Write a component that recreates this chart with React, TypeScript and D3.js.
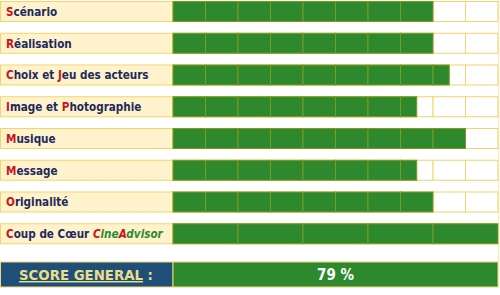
import React from "react";
import * as d3 from "d3";

// critères notés sur 10
const criteres = [
  "Scénario",
  "Réalisation",
  "Choix et Jeu des acteurs",
  "Image et Photographie",
  "Musique",
  "Message",
  "Originalité",
  "Coup de Cœur",
];
const notes = [8, 8, 8.5, 7.5, 9, 7.5, 8, 10];
const pas = [1, 1, 1, 1, 1, 1, 1, 2]; // largeur des cases
const lettresRouges = [[0], [0], [0, 9], [0, 9], [0], [0], [0], [0]];
const signature = "CineAdvisor";
const signatureRouges = [0, 4];
const scoreGeneral = 79;
const noteMax = 10;

const W = 500;
const H = 295;
const labelW = 173;
const rowH = 20;
const pitch = 31.75;
const top = 1.5;

const GREEN = "#2e892e";
const OLIVE = "#7f9a1c";
const GOLD = "#f1d56e";
const CREAM = "#fff2cc";
const NAVY = "#1c2a5c";
const RED = "#c4161c";
const BLUE = "#1f4e79";

const Label = ({ text, reds }: { text: string; reds: number[] }) => (
  <>
    {text.split("").map((ch, i) => (
      <tspan key={i} fill={reds.includes(i) ? RED : NAVY}>
        {ch}
      </tspan>
    ))}
  </>
);

export default function App() {
  const x = d3.scaleLinear().domain([0, noteMax]).range([labelW, W - 2]);
  const y = (i: number) => top + i * pitch;
  const font = "Tahoma, 'DejaVu Sans Condensed', 'DejaVu Sans', sans-serif";

  return (
    <div style={{ position: "fixed", left: 0, top: 0 }}>
      <svg width={W} height={H} style={{ display: "block", background: "#fff" }} fontFamily={font}>
        {criteres.map((c, i) => {
          const ticks = d3.range(0, noteMax, pas[i]);
          return (
            <g key={c}>
              <rect x={0.5} y={y(i)} width={labelW - 0.5} height={rowH} fill={CREAM} stroke={GOLD} />
              <text x={6} y={y(i) + rowH / 2 + 4.3} fontSize={11.6} fontWeight="bold">
                <Label text={c} reds={lettresRouges[i]} />
                {i === criteres.length - 1 && (
                  <>
                    <tspan> </tspan>
                    {signature.split("").map((ch, k) => (
                      <tspan key={k} fontStyle="italic" fill={signatureRouges.includes(k) ? RED : "#2e8b2e"}>
                        {ch}
                      </tspan>
                    ))}
                  </>
                )}
              </text>
              {ticks.map((t) => (
                <rect key={"e" + t} x={x(t)} y={y(i)} width={x(t + pas[i]) - x(t)} height={rowH} fill="#fff" stroke={GOLD} />
              ))}
              {ticks
                .filter((t) => t < notes[i])
                .map((t) => (
                  <rect
                    key={"v" + t}
                    x={x(t)}
                    y={y(i)}
                    width={x(Math.min(t + pas[i], notes[i])) - x(t)}
                    height={rowH}
                    fill={GREEN}
                    stroke={OLIVE}
                  />
                ))}
            </g>
          );
        })}
        <line x1={W - 1.5} x2={W - 1.5} y1={0} y2={262} stroke={GOLD} strokeOpacity={0.5} />
        <g>
          <rect x={0.5} y={262} width={labelW - 0.5} height={25} fill={BLUE} stroke={GOLD} />
          <rect x={labelW} y={262} width={x(noteMax) - labelW} height={25} fill={GREEN} stroke={GOLD} />
          <text x={19} y={280} fontSize={14.8} fontWeight="bold" fill="#eadf86">
            <tspan textDecoration="underline">SCORE GENERAL</tspan>
            <tspan> :</tspan>
          </text>
          <text x={(labelW + x(noteMax)) / 2} y={280} fontSize={15} fontWeight="bold" fill="#fff" textAnchor="middle">
            {scoreGeneral} %
          </text>
        </g>
      </svg>
    </div>
  );
}
